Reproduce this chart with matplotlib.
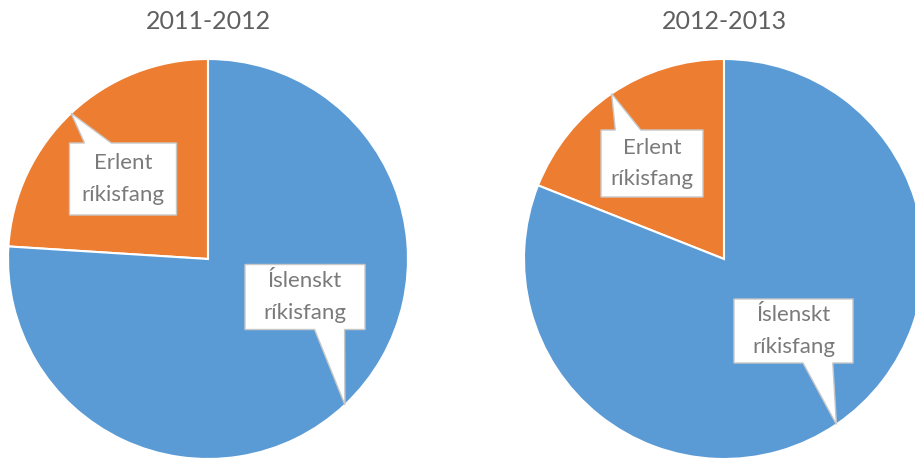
import numpy as np
import matplotlib
matplotlib.use("Agg")
import matplotlib.pyplot as plt
from matplotlib.patches import Polygon

# data
years = ["2011-2012", "2012-2013"]
categories = ["Erlent\nríkisfang", "Íslenskt\nríkisfang"]
share_2011 = [0.24, 0.76]
share_2012 = [0.19, 0.81]
colors = ["#ED7D31", "#5B9BD5"]

plt.rcParams["font.family"] = ["Lato", "DejaVu Sans"]

W, H = 915, 458
fig = plt.figure(figsize=(W / 100, H / 100), dpi=100)

# layout (pixels): pie centres and radius
centres = [(208, 259), (724, 259)]
R = 200
# callout boxes: (centre dx, dy, width, height) in radius units
boxes = [
    [(-0.425, 0.40, 0.535, 0.36), (0.485, -0.19, 0.60, 0.325)],
    [(-0.36, 0.4775, 0.51, 0.335), (0.3475, -0.36, 0.595, 0.32)],
]


def callout(ax, box, tip, text):
    cx, cy, w, h = box
    x0, x1 = cx - w / 2, cx + w / 2
    y0, y1 = cy - h / 2, cy + h / 2
    if tip[1] > y1:
        b1, b2 = x0 + 0.14 * w, x0 + 0.39 * w
        pts = [(x0, y0), (x1, y0), (x1, y1), (b2, y1), tip, (b1, y1), (x0, y1)]
    else:
        b1, b2 = x0 + 0.58 * w, x0 + 0.83 * w
        pts = [(x0, y1), (x0, y0), (b1, y0), tip, (b2, y0), (x1, y0), (x1, y1)]
    ax.add_patch(Polygon(pts, closed=True, fc="white", ec="#C8C8C8",
                         lw=1, zorder=5, clip_on=False))
    ax.text(cx, cy, text, ha="center", va="center", fontsize=16,
            color="#7A7A7A", linespacing=1.7, zorder=6)


for i, (year, vals) in enumerate(zip(years, [share_2011, share_2012])):
    px, py = centres[i]
    ax = fig.add_axes([(px - R) / W, (H - py - R) / H, 2 * R / W, 2 * R / H])
    wedges, _ = ax.pie(vals, colors=colors, startangle=90, counterclock=True,
                       radius=1, wedgeprops=dict(edgecolor="white", linewidth=1.5))
    ax.set_xlim(-1, 1)
    ax.set_ylim(-1, 1)
    ax.set_aspect("equal")
    ax.axis("off")
    for w in wedges:
        w.set_clip_on(False)
    for j, w in enumerate(wedges):
        mid = np.deg2rad((w.theta1 + w.theta2) / 2)
        tip = (np.cos(mid), np.sin(mid))
        callout(ax, boxes[i][j], tip, categories[j])
    ax.text(0, 1.185, year, ha="center", va="center", fontsize=18,
            color="#606060", clip_on=False)

fig.savefig("out.png", dpi=100)
